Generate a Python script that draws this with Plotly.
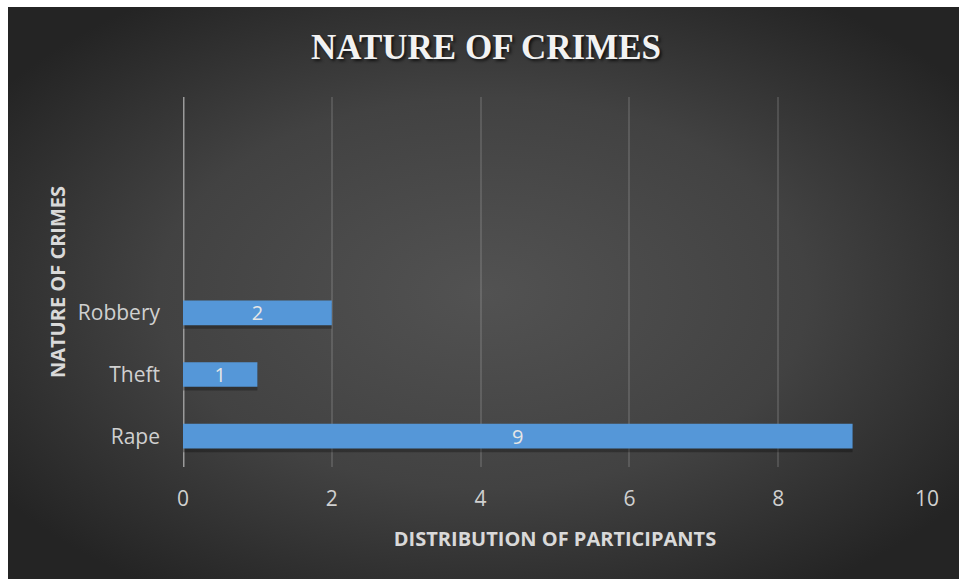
import base64
import plotly.graph_objects as go

# Chart data
categories = ["Rape", "Theft", "Robbery"]
participants = [9, 1, 2]
x_ticks = [0, 2, 4, 6, 8, 10]

W, H = 959, 579
L, R, T, B = 183, 32, 97, 112

# Dark radial-gradient backdrop
svg = f"""<svg xmlns='http://www.w3.org/2000/svg' width='{W}' height='{H}' viewBox='0 0 {W} {H}'>
<defs><radialGradient id='g' cx='50%' cy='50%' r='62%'>
<stop offset='0' stop-color='#525252'/>
<stop offset='0.55' stop-color='#424242'/>
<stop offset='1' stop-color='#242424'/>
</radialGradient></defs>
<rect x='0' y='0' width='{W}' height='{H}' fill='url(#g)'/>
</svg>"""
bg_uri = "data:image/svg+xml;base64," + base64.b64encode(svg.encode()).decode()

pw, ph = W - L - R, H - T - B
x0 = (8 - L) / pw
y1 = 1 + (T - 7) / ph
sx = (W - 8) / pw
sy = (H - 7) / ph

ypos = list(range(len(categories)))

fig = go.Figure()
# soft drop shadow under each bar
fig.add_trace(go.Bar(
    y=ypos, x=participants, orientation="h",
    width=0.42, offset=-0.26,
    marker=dict(color="rgba(0,0,0,0.28)", line=dict(width=0)),
    hoverinfo="skip", showlegend=False,
))
fig.add_trace(go.Bar(
    y=ypos, x=participants, orientation="h",
    width=0.4, offset=-0.2,
    marker=dict(color="#5597d8", line=dict(width=0)),
    text=[str(v) for v in participants],
    textposition="inside", insidetextanchor="middle", textangle=0,
    constraintext="none",
    textfont=dict(family="Open Sans", size=20, color="#e6e6e6"),
    showlegend=False,
))

fig.update_layout(
    width=W, height=H,
    margin=dict(l=L, r=R, t=T, b=B, pad=0),
    paper_bgcolor="white",
    plot_bgcolor="rgba(0,0,0,0)",
    barmode="overlay",
    images=[dict(source=bg_uri, xref="paper", yref="paper",
                 x=x0, y=y1, sizex=sx, sizey=sy,
                 xanchor="left", yanchor="top", sizing="stretch", layer="below")],
    title=dict(
        text="<b>NATURE OF CRIMES</b>",
        x=(486) / W, xanchor="center", y=1 - 47 / H, yanchor="middle",
        font=dict(family="Liberation Serif", size=35, color="#f2f2f2",
                  shadow="2px 2px 3px rgba(0,0,0,0.7)"),
    ),
    xaxis=dict(
        range=[0, 10], tickvals=x_ticks, ticktext=[str(t) for t in x_ticks],
        showgrid=True, gridcolor="rgba(255,255,255,0.13)", gridwidth=2,
        zeroline=False, showline=False, ticks="",
        tickfont=dict(family="Open Sans", size=21, color="#d0d0d0"),
        ticklabelstandoff=17,
        title=dict(text="<b>DISTRIBUTION OF PARTICIPANTS</b>", standoff=20,
                   font=dict(family="Open Sans", size=20, color="#d9d9d9")),
    ),
    yaxis=dict(
        range=[-0.5, 5.5], tickvals=ypos, ticktext=categories,
        showgrid=False, zeroline=False, ticks="",
        showline=False,
        tickfont=dict(family="Open Sans", size=21, color="#d0d0d0"),
        ticklabelstandoff=22,
        title=dict(text="<b>NATURE OF CRIMES</b>", standoff=6,
                   font=dict(family="Open Sans", size=20, color="#d9d9d9")),
    ),
    shapes=[dict(type="line", xref="x", yref="paper", x0=0, x1=0, y0=0, y1=1,
                 line=dict(color="#9a9a9a", width=3), layer="below")],
)

fig.write_html("out.html")
